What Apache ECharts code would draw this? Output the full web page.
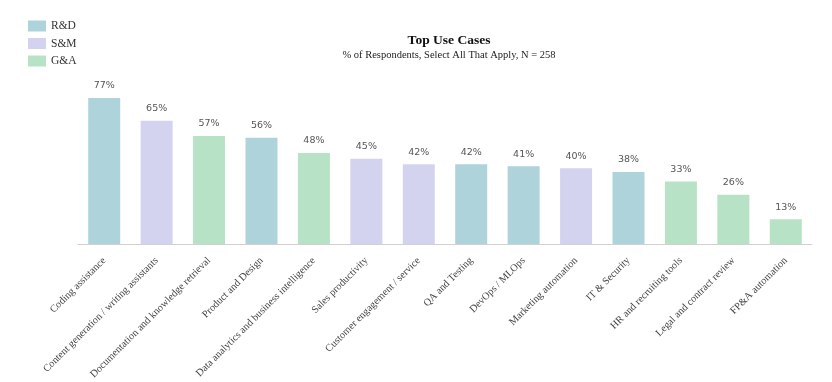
<!DOCTYPE html>
<html><head><meta charset="utf-8">
<script src="https://cdn.jsdelivr.net/npm/echarts@6/dist/echarts.min.js"></script>
<style>html,body{margin:0;padding:0;background:#fff}#c{width:832px;height:382px}</style>
</head><body><div id="c"></div>
<script>
const categories = ["Coding assistance","Content generation / writing assistants","Documentation and knowledge retrieval","Product and Design","Data analytics and business intelligence","Sales productivity","Customer engagement / service","QA and Testing","DevOps / MLOps","Marketing automation","IT & Security","HR and recruiting tools","Legal and contract review","FP&A automation"];
const values = [77,65,57,56,48,45,42,42,41,40,38,33,26,13];
const groups = ["R&D","S&M","G&A","R&D","G&A","S&M","S&M","R&D","R&D","S&M","R&D","G&A","G&A","G&A"];
const groupNames = ["R&D","S&M","G&A"];
const colors = {"R&D":"#aed3da","S&M":"#d3d3f0","G&A":"#b7e2c5"};

const serif = "'Liberation Serif', 'DejaVu Serif', serif";
const series = groupNames.map(g => ({
  name: g, type: 'bar', stack: 'all', barWidth: 32,
  itemStyle: {color: colors[g]},
  data: values.map((v,i) => groups[i] === g ? v : null),
  label: {show: true, position: 'top', distance: 7, formatter: p => p.value + '%',
    fontFamily: "'DejaVu Sans', sans-serif", fontSize: 9.5, color: '#555'}
}));
const chart = echarts.init(document.getElementById('c'));
chart.setOption({
  animation: false,
  title: {text: 'Top Use Cases', subtext: '% of Respondents, Select All That Apply, N = 258',
    left: 444, textAlign: 'center', top: 29, itemGap: 2,
    textStyle: {fontFamily: serif, fontSize: 13.5, fontWeight: 'bold', color: '#111'},
    subtextStyle: {fontFamily: serif, fontSize: 10.5, color: '#222'}},
  legend: {orient: 'vertical', left: 23, top: 15, itemWidth: 18, itemHeight: 11, itemGap: 5.5,
    icon: 'rect', textStyle: {fontFamily: serif, fontSize: 11.5, color: '#333'}, data: groupNames},
  grid: {left: 78, right: 20, top: 54.4, bottom: 138, containLabel: false, outerBoundsMode: 'none'},
  xAxis: {type: 'category', data: categories,
    axisLine: {lineStyle: {color: '#d0d0d0'}}, axisTick: {show: false},
    axisLabel: {rotate: 45, interval: 0, fontFamily: serif, fontSize: 10.3, color: '#444', margin: 15}},
  yAxis: {type: 'value', min: 0, max: 100, show: false, splitLine: {show: false}},
  series: series
});
</script></body></html>
